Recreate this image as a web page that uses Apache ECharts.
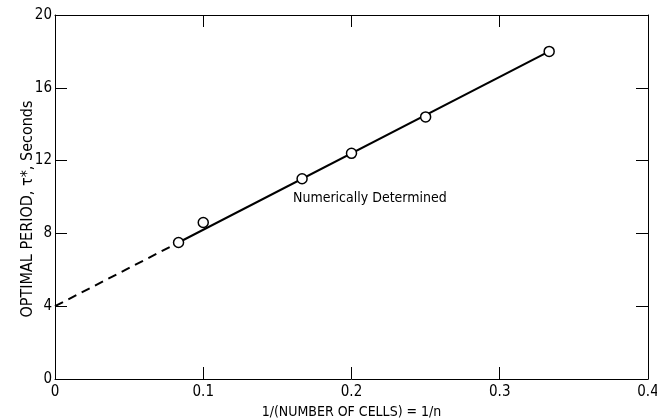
<!DOCTYPE html>
<html lang="en">
<head>
    <meta charset="UTF-8">
    <title>Optimal Period</title>
    <script src="https://cdn.jsdelivr.net/npm/echarts@6/dist/echarts.min.js"></script>
    <style>
        html, body { margin: 0; padding: 0; background: #fff; }
        #chart { width: 657px; height: 418px; }
    </style>
</head>
<body>
    <div id="chart"></div>
    <script>
        // numerically determined points: x = 1/n, y = optimal period (s)
        var pointX = [1 / 12, 0.1, 1 / 6, 0.2, 0.25, 1 / 3];
        var pointY = [7.5, 8.6, 11.0, 12.4, 14.4, 18.0];
        // fitted line, dashed part extrapolated back to 1/n = 0
        var dashX = [0, 1 / 12];
        var dashY = [4.0, 7.5];
        var solidX = [1 / 12, 1 / 3];
        var solidY = [7.5, 18.0];
        var xTicks = [0, 0.1, 0.2, 0.3, 0.4];
        var yTicks = [0, 4, 8, 12, 16, 20];

        var font = '"DejaVu Sans Condensed", "Liberation Sans Narrow", "DejaVu Sans", sans-serif';

        function pairs(xs, ys) {
            var out = [];
            for (let i = 0; i < xs.length; i++) out.push([xs[i], ys[i]]);
            return out;
        }

        var lineStyle = { color: '#000', width: 1 };
        var tick = { show: true, inside: true, length: 12, lineStyle: lineStyle };

        var myChart = echarts.init(document.getElementById('chart'));
        var option = {
            backgroundColor: '#fff',
            animation: false,
            grid: { left: 55, right: 9, top: 15, bottom: 39, outerBoundsMode: 'none', containLabel: false },
            xAxis: [
                {
                    type: 'value', position: 'bottom',
                    min: xTicks[0], max: xTicks[xTicks.length - 1], interval: 0.1,
                    name: '1/(NUMBER OF CELLS) = 1/n', nameLocation: 'middle', nameGap: 25,
                    nameTextStyle: { fontFamily: font, fontSize: 14, color: '#000' },
                    axisLine: { onZero: false, lineStyle: lineStyle },
                    axisTick: tick,
                    axisLabel: { fontFamily: font, fontSize: 15, color: '#000', margin: 6,
                        formatter: function (v) { return v === 0 ? '0' : v.toFixed(1); } },
                    splitLine: { show: false }
                },
                {
                    type: 'value', position: 'top',
                    min: xTicks[0], max: xTicks[xTicks.length - 1], interval: 0.1,
                    axisLine: { onZero: false, lineStyle: lineStyle },
                    axisTick: tick,
                    axisLabel: { show: false },
                    splitLine: { show: false }
                }
            ],
            yAxis: [
                {
                    type: 'value', position: 'left',
                    min: yTicks[0], max: yTicks[yTicks.length - 1], interval: 4,
                    name: 'OPTIMAL PERIOD, \u03c4*, Seconds', nameLocation: 'middle', nameGap: 19,
                    nameMoveOverlap: false,
                    nameTextStyle: { fontFamily: font, fontSize: 16, color: '#000', padding: [0, 24, 0, 0] },
                    axisLine: { onZero: false, lineStyle: lineStyle },
                    axisTick: tick,
                    axisLabel: { fontFamily: font, fontSize: 15, color: '#000', margin: 3 },
                    splitLine: { show: false }
                },
                {
                    type: 'value', position: 'right',
                    min: yTicks[0], max: yTicks[yTicks.length - 1], interval: 4,
                    axisLine: { onZero: false, lineStyle: lineStyle },
                    axisTick: tick,
                    axisLabel: { show: false },
                    splitLine: { show: false }
                }
            ],
            series: [
                {
                    type: 'line', data: pairs(dashX, dashY), symbol: 'none',
                    lineStyle: { color: '#000', width: 2, type: [9, 6] }
                },
                {
                    type: 'line', data: pairs(solidX, solidY), symbol: 'none',
                    lineStyle: { color: '#000', width: 2 }
                },
                {
                    type: 'scatter', data: pairs(pointX, pointY), symbol: 'circle', symbolSize: 10,
                    itemStyle: { color: '#fff', borderColor: '#000', borderWidth: 1.5, opacity: 1 },
                    z: 5
                }
            ],
            graphic: [
                {
                    type: 'text', left: 293, top: 191,
                    style: { text: 'Numerically Determined', fontFamily: font, fontSize: 14, fill: '#000' }
                }
            ]
        };
        myChart.setOption(option);
    </script>
</body>
</html>
